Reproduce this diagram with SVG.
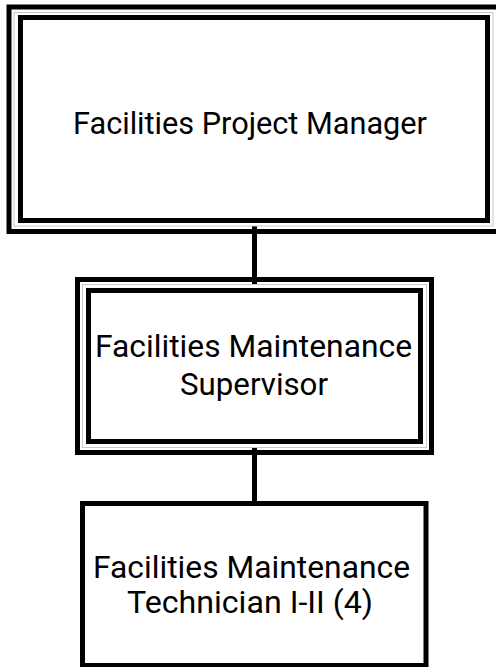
<svg xmlns="http://www.w3.org/2000/svg" width="496" height="667" viewBox="0 0 496 667">
<style>
.o{fill:none;stroke:#000;stroke-width:5}
.g{fill:none;stroke:#c8c8c8;stroke-width:1}
.t{font-family:Roboto,"Liberation Sans",sans-serif;font-size:32px;fill:#000;text-anchor:middle}
.c{stroke:#000;stroke-width:5;fill:none}
</style>
<rect width="496" height="667" fill="#fff"/>
<g id="connectors">
<line class="c" x1="254.5" y1="226" x2="254.5" y2="284"/>
<line class="c" x1="254.5" y1="448" x2="254.5" y2="505"/>
</g>
<g id="node1">
<rect class="o" x="9" y="7" width="490" height="224.5"/>
<rect class="g" x="14" y="12.5" width="479" height="213.5"/>
<rect class="o" x="20.5" y="17.5" width="467" height="203"/>
<text class="t" x="250" y="134" textLength="354" lengthAdjust="spacingAndGlyphs">Facilities Project Manager</text>
</g>
<g id="node2">
<rect class="o" x="77.5" y="279.5" width="354" height="173"/>
<rect class="g" x="82.5" y="284.5" width="344" height="163"/>
<rect class="o" x="88.5" y="290.5" width="332" height="151"/>
<text class="t" x="253.5" y="357" textLength="317" lengthAdjust="spacingAndGlyphs">Facilities Maintenance</text>
<text class="t" x="254" y="395" textLength="148" lengthAdjust="spacingAndGlyphs">Supervisor</text>
</g>
<g id="node3">
<rect class="o" x="82.5" y="503.5" width="343.5" height="162" fill="#fff"/>
<text class="t" x="251.5" y="578" textLength="317" lengthAdjust="spacingAndGlyphs">Facilities Maintenance</text>
<text class="t" x="250" y="613" textLength="246" lengthAdjust="spacingAndGlyphs">Technician I-II (4)</text>
</g>
</svg>
